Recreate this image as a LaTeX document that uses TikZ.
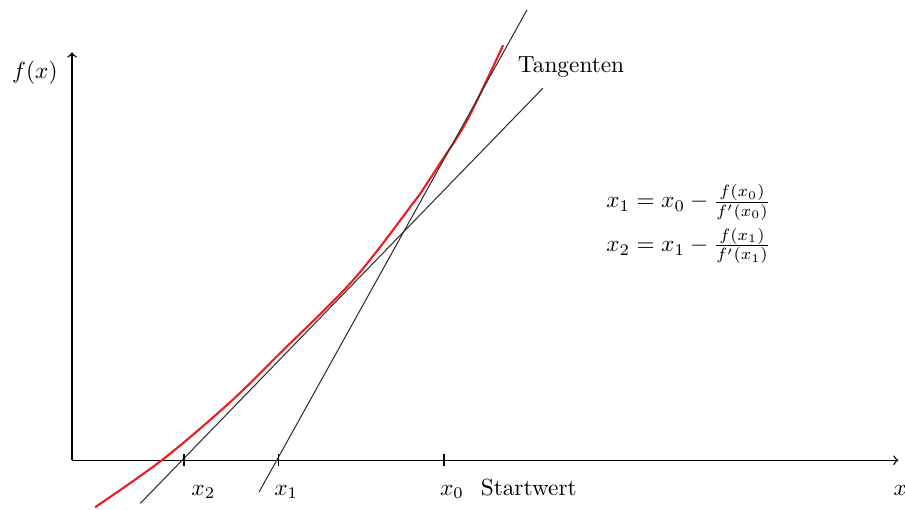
\documentclass[tikz,border=0pt]{standalone}
\usetikzlibrary{positioning}
\definecolor{newtonCurve}{HTML}{EE1C1C}
\definecolor{newtonTan}{HTML}{303030}
\tikzset{
  newtonfig/.style={
    every node/.append style={font=\normalsize},
  },
  axis/.style={draw=black, line width=0.6pt, ->},
  tangent/.style={draw=newtonTan, line width=0.45pt},
  curve/.style={draw=newtonCurve, line width=0.9pt},
  tick/.style={draw=black, line width=0.6pt},
  ticklabel/.style={anchor=base, inner sep=1pt},
  formula/.style={anchor=west, inner sep=0pt},
}

\begin{document}
\begin{tikzpicture}[newtonfig]
  \useasboundingbox (-1.086,-0.739) rectangle (12.56,6.94);
  % Achsen
  \coordinate (O) at (0,0);
  \coordinate (XEnd) at (12.46,0);
  \coordinate (YEnd) at (0,6.15);
  \draw[axis] (O) -- (XEnd);
  \draw[axis] (O) -- (YEnd);
  \node (xlabel) at (12.49,-0.45) {$x$};
  \node (ylabel) at (-0.56,5.85) {$f(x)$};
  % Funktion
  \draw[curve] plot[smooth, tension=0.55] coordinates {
    (0.347,-0.709) (1.373,0.015) (2.383,0.875) (3.137,1.614)
    (4.238,2.715) (5.143,3.876) (5.354,4.178) (5.551,4.480)
    (5.958,5.128) (6.501,6.259)};
  % Tangenten
  \coordinate (T1a) at (2.82,-0.48);
  \coordinate (T1b) at (6.86,6.79);
  \coordinate (T2a) at (1.03,-0.65);
  \coordinate (T2b) at (7.10,5.61);
  \draw[tangent] (T1a) -- (T1b);
  \draw[tangent] (T2a) -- (T2b);
  \node[anchor=west] (tanlabel) at (6.60,5.93) {Tangenten};
  % Naeherungswerte
  \coordinate (X2) at (1.69,0);
  \coordinate (X1) at (3.11,0);
  \coordinate (X0) at (5.61,0);
  \foreach \p in {X2,X1,X0}
    \draw[tick] ([yshift=-0.09cm]\p) -- ([yshift=0.09cm]\p);
  \node[ticklabel] (x2label) at (1.98,-0.53) {$x_2$};
  \node[ticklabel] (x1label) at (3.23,-0.53) {$x_1$};
  \node[ticklabel] (x0label) at (5.73,-0.53) {$x_0$};
  \node[ticklabel, right=0.17cm of x0label.base east, anchor=base west] (start) {Startwert};
  % Formeln
  \node[formula] (step1) at (8.05,3.89) {$x_1 = x_0 - \frac{f(x_0)}{f'(x_0)}$};
  \node[formula] (step2) at (8.05,3.23) {$x_2 = x_1 - \frac{f(x_1)}{f'(x_1)}$};
\end{tikzpicture}
\end{document}
